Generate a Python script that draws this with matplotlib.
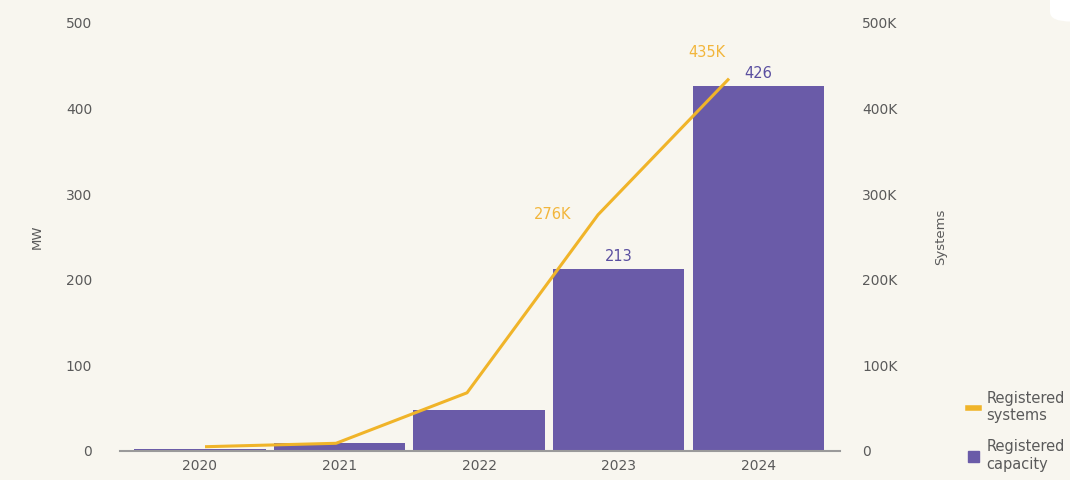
import matplotlib.pyplot as plt
from matplotlib.lines import Line2D
from matplotlib.patches import Patch, FancyBboxPatch

# capacity (MW) and number of registered systems per year
years = ['2020', '2021', '2022', '2023', '2024']
capacity_mw = [2, 9, 48, 213, 426]
systems = [5000, 9000, 68000, 276000, 435000]
capacity_labels = {3: '213', 4: '426'}
systems_labels = {3: '276K', 4: '435K'}

bg = '#f8f6ef'
purple = '#6a5ba8'
gold = '#f0b429'
grey = '#5a5a5a'

fig = plt.figure(figsize=(10.7, 4.8), dpi=100, facecolor=bg)
rect = [120 / 1070, 29 / 480, 720 / 1070, 428 / 480]
ax = fig.add_axes(rect)
ax.set_facecolor('none')

x = list(range(len(years)))
ax.bar(x, capacity_mw, width=0.94, color=purple, zorder=2)
ax.set_xlim(-0.573, 4.587)
ax.set_ylim(0, 500)
ax.set_xticks(x)
ax.set_xticklabels(years)
ax.set_yticks([0, 100, 200, 300, 400, 500])
ax.tick_params(length=0, labelsize=10, labelcolor=grey)
ax.tick_params(axis='x', pad=6)
ax.tick_params(axis='y', pad=20)
for s in ['top', 'left', 'right']:
    ax.spines[s].set_visible(False)
ax.spines['bottom'].set_color('#9a9a9a')
ax.spines['bottom'].set_linewidth(1.5)
ax.set_ylabel('MW', fontsize=9.5, color=grey, labelpad=16)

for i, t in capacity_labels.items():
    ax.text(i, capacity_mw[i] + 6, t, ha='center', va='bottom',
            fontsize=10.5, color='#5a4fa0')

# systems line sits on its own axes with a slightly narrower x spacing
ax2 = fig.add_axes(rect)
ax2.patch.set_visible(False)
ax2.plot(x, systems, color=gold, linewidth=2.2, solid_capstyle='butt', zorder=3)
ax2.set_xlim(-0.649, 4.847)
ax2.set_ylim(0, 500000)
ax2.set_xticks([])
ax2.yaxis.tick_right()
ax2.yaxis.set_label_position('right')
ax2.set_yticks([0, 100000, 200000, 300000, 400000, 500000])
ax2.set_yticklabels(['0', '100K', '200K', '300K', '400K', '500K'])
ax2.tick_params(length=0, labelsize=10, labelcolor=grey, pad=16)
for s in ax2.spines.values():
    s.set_visible(False)
ax2.set_ylabel('Systems', fontsize=9.5, color=grey, labelpad=26)

ax2.text(3 - 0.2, systems[3], systems_labels[3], ha='right', va='center',
         fontsize=10.5, color='#f2b63c')
ax2.text(4 - 0.17, systems[4] + 30000, systems_labels[4], ha='center', va='center',
         fontsize=10.5, color='#f2b63c')

handles = [Line2D([], [], color=gold, linewidth=4),
           Patch(color=purple)]
fig.legend(handles, ['Registered\nsystems', 'Registered\ncapacity'],
           loc='lower left', bbox_to_anchor=(0.892, -0.01), frameon=False,
           fontsize=10.5, labelcolor=grey, handlelength=0.8, handleheight=0.8,
           handletextpad=0.5, labelspacing=1.1)

# white rounded corner at the top right
fig.patches.append(FancyBboxPatch((1050 / 1070, 0.955), 0.1, 0.1,
                                  boxstyle='round,pad=0,rounding_size=0.02',
                                  transform=fig.transFigure, facecolor='white',
                                  edgecolor='none'))

fig.savefig('out.png', dpi=100, facecolor=bg)
